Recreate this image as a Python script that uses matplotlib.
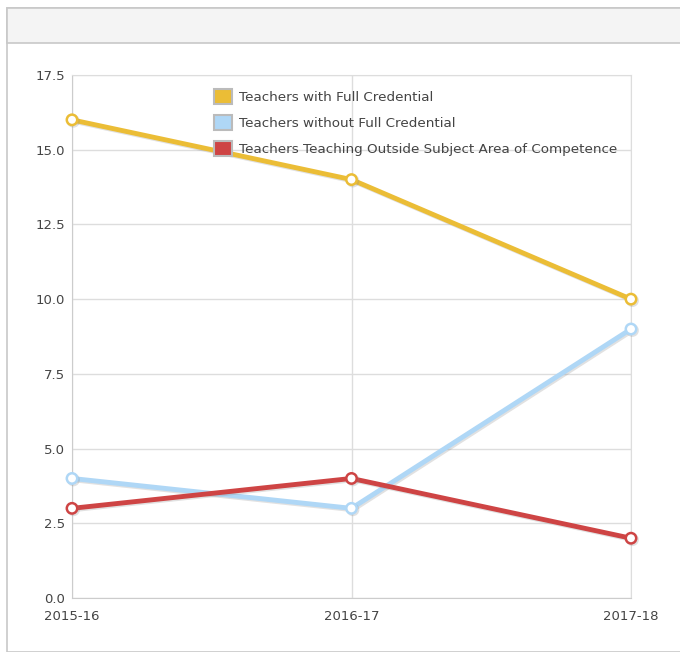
import matplotlib
matplotlib.use("Agg")
import matplotlib.pyplot as plt
from matplotlib.patches import Patch, Rectangle
import matplotlib.patheffects as pe

categories = ["2015-16", "2016-17", "2017-18"]
full_cred = [16, 14, 10]
without_cred = [4, 3, 9]
outside_subject = [3, 4, 2]
series_names = ["Teachers with Full Credential",
                "Teachers without Full Credential",
                "Teachers Teaching Outside Subject Area of Competence"]
colors = ["#EBBD36", "#AFD7F6", "#CE4444"]
yticks = [0.0, 2.5, 5.0, 7.5, 10.0, 12.5, 15.0, 17.5]

W, H = 680, 652
fig = plt.figure(figsize=(W/100, H/100), dpi=100)
fig.patch.set_facecolor("white")

def fx(x): return x / W
def fy(y): return 1 - y / H

fig.patches.append(Rectangle((fx(7), 0), 1, fy(8), transform=fig.transFigure,
                             facecolor="white", edgecolor="#c8c8c8", lw=1.2, zorder=-10))
fig.patches.append(Rectangle((fx(7), fy(43)), 1, fy(8) - fy(43), transform=fig.transFigure,
                             facecolor="#f4f4f4", edgecolor="#c8c8c8", lw=1.2, zorder=-9))

ax = fig.add_axes([fx(72), fy(598), fx(631) - fx(72), fy(75) - fy(598)])
ax.set_zorder(1)
ax.set_facecolor("white")
x = list(range(len(categories)))
shadow = [pe.SimpleLineShadow(offset=(1, -1), shadow_color="#888888", alpha=0.25), pe.Normal()]
for vals, c, name in zip([full_cred, without_cred, outside_subject], colors, series_names):
    ax.plot(x, vals, color=c, lw=3.5, marker="o", markersize=7.5,
            markerfacecolor="white", markeredgecolor=c, markeredgewidth=1.8,
            label=name, zorder=3, path_effects=shadow, solid_capstyle="round",
            clip_on=False)

ax.set_xlim(0, len(categories) - 1)
ax.set_ylim(0, 17.5)
ax.set_yticks(yticks)
ax.set_yticklabels([f"{v:.1f}" for v in yticks])
ax.set_xticks(x)
ax.set_xticklabels(categories)
ax.grid(True, color="#dddddd", lw=1)
ax.set_axisbelow(True)
for s in ax.spines.values():
    s.set_color("#dddddd")
ax.spines["left"].set_color("#cccccc")
ax.spines["bottom"].set_color("#cccccc")
ax.tick_params(length=0, labelsize=9.5, labelcolor="#444444")
ax.tick_params(axis="y", pad=5)
ax.tick_params(axis="x", pad=9)

handles = [Patch(facecolor=c, edgecolor="#bbbbbb", lw=1.5) for c in colors]
leg = ax.legend(handles, series_names, loc="upper left",
                bbox_to_anchor=(fx(207), fy(82)), bbox_transform=fig.transFigure,
                frameon=False, fontsize=9.7, handlelength=1.35, handleheight=1.35,
                handletextpad=0.5, labelspacing=0.8, borderpad=0)
for t in leg.get_texts():
    t.set_color("#444444")

fig.savefig("out.png", dpi=100)
